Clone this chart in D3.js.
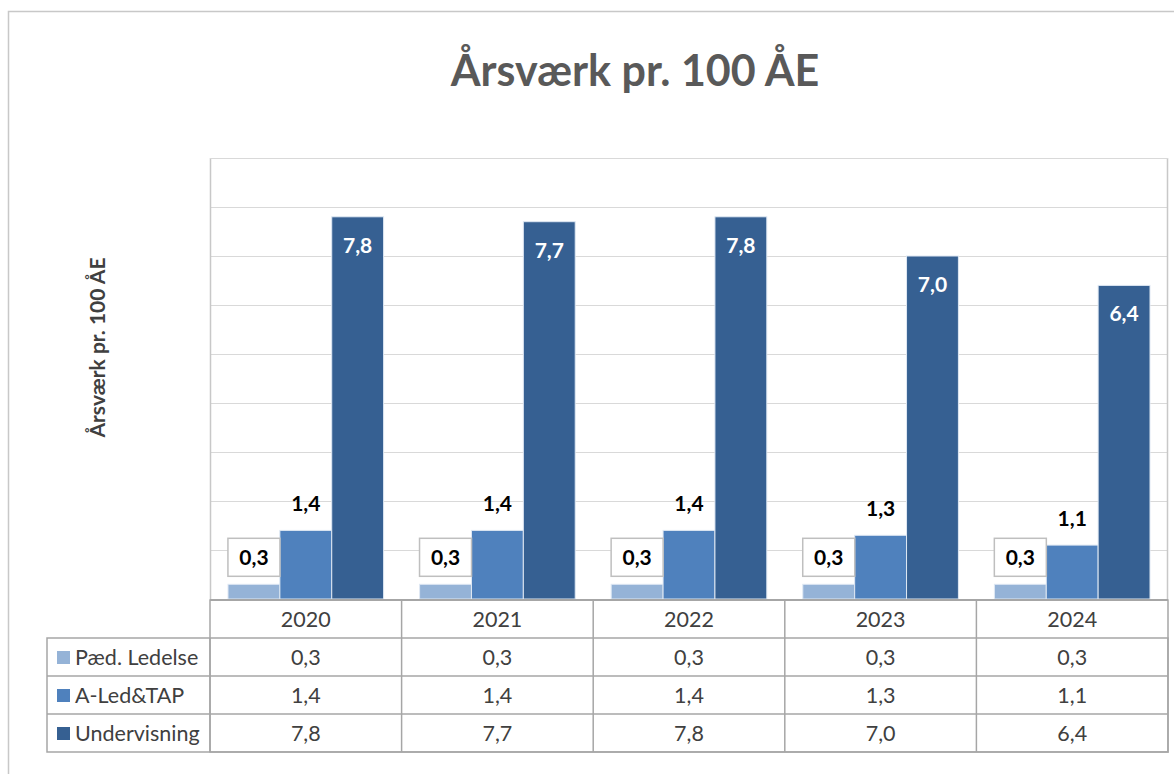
<!DOCTYPE html>
<html>
<head>
<meta charset="utf-8">
<script src="https://cdn.jsdelivr.net/npm/d3@7"></script>
<style>
body{margin:0;background:#fff;font-family:Lato,"Open Sans",sans-serif;}
</style>
</head>
<body>
<script>
var years=["2020","2021","2022","2023","2024"]
var seriesNames=["Pæd. Ledelse","A-Led&TAP","Undervisning"]
var paed=[0.3,0.3,0.3,0.3,0.3]
var aled=[1.4,1.4,1.4,1.3,1.1]
var underv=[7.8,7.7,7.8,7.0,6.4]
var colors=["#95b3d7","#4f81bd","#366092"]

var fmt=function(v){return d3.format(".1f")(v).replace(".",",")}

var drawChart=function(){
  var screen={width:1174,height:774}
  var margin={top:158,right:6,bottom:175,left:210}
  var w=screen.width-margin.left-margin.right
  var h=screen.height-margin.top-margin.bottom
  var series=[paed,aled,underv]

  var svg=d3.select("body").append("svg")
    .attr('width',screen.width)
    .attr('height',screen.height)

  // outer frame
  svg.append("rect").attr('x',8.5).attr('y',11.5).attr('width',1180).attr('height',800)
    .attr('fill','none').attr('stroke','#c8c8c8').attr('stroke-width',1.5)

  svg.append("text").attr('x',635).attr('y',86).attr('text-anchor','middle')
    .attr('font-size',43).attr('font-weight','bold').attr('fill','#595959')
    .text("Årsværk pr. 100 ÅE")

  svg.append("text").attr('transform','translate(105,'+(margin.top+h/2-31)+') rotate(-90)')
    .attr('text-anchor','middle').attr('font-size',21).attr('font-weight','bold').attr('fill','#404040')
    .text("Årsværk pr. 100 ÅE")

//scales
  var x0=d3.scaleBand().domain(years).range([0,w]).paddingInner(0).paddingOuter(0)
  var x1=d3.scaleBand().domain(d3.range(3)).range([18,x0.bandwidth()-18]).padding(0)
  var yScale=d3.scaleLinear().domain([0,9]).range([h,0])

  var plot=svg.append("g").attr('transform','translate('+margin.left+','+margin.top+')')

  // grid
  var yAxis=d3.axisLeft(yScale).ticks(9).tickSize(-w).tickFormat("")
  var ga=plot.append("g").call(yAxis)
  ga.select(".domain").remove()
  ga.selectAll("line").attr('stroke','#d9d9d9').attr('stroke-width',1.2)

  plot.append("line").attr('x1',0.5).attr('x2',0.5).attr('y1',0).attr('y2',h)
    .attr('stroke','#c8c8c8').attr('stroke-width',1.5)
  plot.append("line").attr('x1',w-0.5).attr('x2',w-0.5).attr('y1',0).attr('y2',h)
    .attr('stroke','#c8c8c8').attr('stroke-width',1.5)
  plot.append("line").attr('x1',0).attr('x2',w).attr('y1',0.5).attr('y2',0.5)
    .attr('stroke','#d9d9d9').attr('stroke-width',1.2)

  // bars
  series.forEach(function(s,si){
    plot.selectAll(".bar"+si).data(s).enter().append("rect")
      .attr('x',function(d,i){return x0(years[i])+x1(si)})
      .attr('width',x1.bandwidth())
      .attr('y',function(d){return yScale(d)})
      .attr('height',function(d){return h-yScale(d)})
      .attr('fill',colors[si])
      .attr('stroke','#dfe8f3').attr('stroke-width',1)
  })

  // labels
  years.forEach(function(yr,i){
    var cx0=x0(yr)+x1(0)+x1.bandwidth()/2
    plot.append("rect").attr('x',cx0-26).attr('y',yScale(paed[i])-46).attr('width',52).attr('height',38)
      .attr('fill','#fff').attr('stroke','#bfbfbf').attr('stroke-width',1.5)
    plot.append("text").attr('x',cx0).attr('y',yScale(paed[i])-19.5).attr('text-anchor','middle')
      .attr('font-size',21).attr('font-weight','bold').attr('fill','#000').text(fmt(paed[i]))

    var cx1=x0(yr)+x1(1)+x1.bandwidth()/2
    plot.append("text").attr('x',cx1).attr('y',yScale(aled[i])-19).attr('text-anchor','middle')
      .attr('font-size',21).attr('font-weight','bold').attr('fill','#000').text(fmt(aled[i]))

    var cx2=x0(yr)+x1(2)+x1.bandwidth()/2
    plot.append("text").attr('x',cx2).attr('y',yScale(underv[i])+36).attr('text-anchor','middle')
      .attr('font-size',21).attr('font-weight','bold').attr('fill','#fff').text(fmt(underv[i]))
  })

  plot.append("line").attr('x1',0).attr('x2',w).attr('y1',h+1).attr('y2',h+1)
    .attr('stroke','#a6a6a6').attr('stroke-width',2)

  // data table
  var rowH=38
  var tbl=plot.append("g").attr('transform','translate(0,'+(h+1)+')')
  var lineC='#a6a6a6'
  tbl.append("rect").attr('x',0).attr('y',0).attr('width',w).attr('height',rowH*4)
    .attr('fill','none').attr('stroke',lineC).attr('stroke-width',1.5)
  tbl.append("rect").attr('x',-163).attr('y',rowH).attr('width',163+w).attr('height',rowH*3)
    .attr('fill','none').attr('stroke',lineC).attr('stroke-width',1.5)
  years.forEach(function(yr,i){
    if(i>0) tbl.append("line").attr('x1',x0(yr)).attr('x2',x0(yr)).attr('y1',0).attr('y2',rowH*4)
      .attr('stroke',lineC).attr('stroke-width',1.5)
    tbl.append("text").attr('x',x0(yr)+x0.bandwidth()/2).attr('y',rowH/2+8).attr('text-anchor','middle')
      .attr('font-size',21.5).attr('fill','#404040').text(yr)
  })
  for(var r=1;r<3;r++){
    tbl.append("line").attr('x1',-163).attr('x2',w).attr('y1',rowH*(r+1)).attr('y2',rowH*(r+1))
      .attr('stroke',lineC).attr('stroke-width',1.5)
  }
  tbl.append("line").attr('x1',0).attr('x2',0).attr('y1',rowH).attr('y2',rowH*4)
    .attr('stroke',lineC).attr('stroke-width',1.5)
  series.forEach(function(s,si){
    var yy=rowH*(si+1)
    tbl.append("rect").attr('x',-153).attr('y',yy+rowH/2-6).attr('width',13).attr('height',13).attr('fill',colors[si])
    tbl.append("text").attr('x',-135).attr('y',yy+rowH/2+8).attr('font-size',21.5).attr('fill','#404040')
      .text(seriesNames[si])
    s.forEach(function(v,i){
      tbl.append("text").attr('x',x0(years[i])+x0.bandwidth()/2).attr('y',yy+rowH/2+8).attr('text-anchor','middle')
        .attr('font-size',21.5).attr('fill','#404040').text(fmt(v))
    })
  })
}

drawChart()
</script>
</body>
</html>
